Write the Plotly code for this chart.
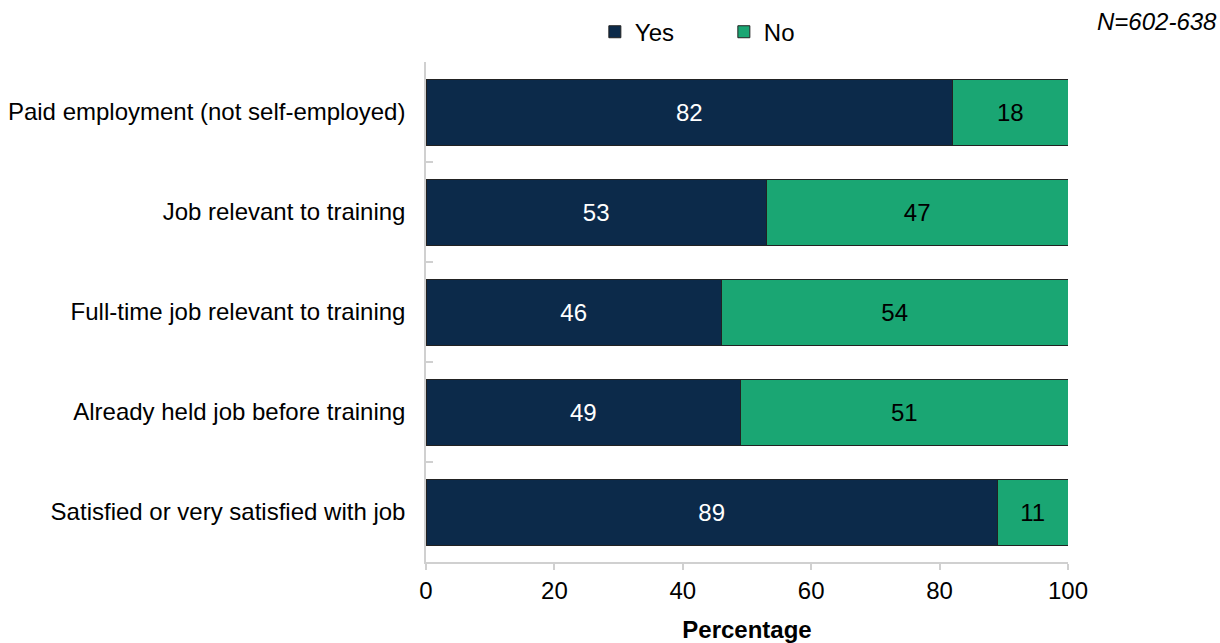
import plotly.graph_objects as go

categories = [
    "Paid employment (not self-employed)",
    "Job relevant to training",
    "Full-time job relevant to training",
    "Already held job before training",
    "Satisfied or very satisfied with job",
]
yes_values = [82, 53, 46, 49, 89]
no_values = [18, 47, 54, 51, 11]
x_ticks = [0, 20, 40, 60, 80, 100]

FONT = "Liberation Sans, Arial, sans-serif"
FS = 24
NAVY = "#0c2a4a"
GREEN = "#1aa673"
OUTLINE = "#222222"
AXIS_GREY = "#d0d0d0"

fig = go.Figure()
fig.add_trace(go.Bar(
    name="Yes", y=categories, x=yes_values, orientation="h",
    marker=dict(color=NAVY, line=dict(color=OUTLINE, width=1)),
    text=[str(v) for v in yes_values], textposition="inside",
    insidetextanchor="middle",
    textfont=dict(color="white", size=FS, family=FONT),
))
fig.add_trace(go.Bar(
    name="No", y=categories, x=no_values, orientation="h",
    marker=dict(color=GREEN, line=dict(color=OUTLINE, width=1)),
    text=[str(v) for v in no_values], textposition="inside",
    insidetextanchor="middle",
    textfont=dict(color="black", size=FS, family=FONT),
))

fig.update_layout(
    barmode="stack",
    bargap=0.34,
    width=1220, height=643,
    margin=dict(l=426, r=152, t=62, b=81),
    paper_bgcolor="white", plot_bgcolor="white",
    font=dict(family=FONT, size=FS, color="black"),
    uniformtext=dict(minsize=FS, mode="show"),
    legend=dict(
        orientation="h", x=0.263, y=0.985, xanchor="left", yanchor="top",
        yref="container", font=dict(size=FS), traceorder="normal",
        entrywidth=84, entrywidthmode="pixels", itemwidth=30,
    ),
    xaxis=dict(
        range=[0, 100], tickvals=x_ticks, ticktext=[str(t) for t in x_ticks],
        showgrid=False, zeroline=False, automargin=False,
        showline=True, linecolor=AXIS_GREY, linewidth=1.5,
        ticks="outside", ticklen=6, tickcolor=AXIS_GREY, tickwidth=1.5,
        tickfont=dict(size=FS),
        title=dict(text="<b>Percentage</b>", font=dict(size=FS), standoff=21),
    ),
    yaxis=dict(
        categoryorder="array", categoryarray=categories[::-1],
        showgrid=False, zeroline=False, automargin=False,
        showline=True, linecolor=AXIS_GREY, linewidth=1.5,
        ticks="inside", ticklen=7, tickcolor=AXIS_GREY, tickwidth=1.5,
        tickson="boundaries", ticklabelstandoff=14,
        tickfont=dict(size=FS),
    ),
)

fig.add_annotation(
    text="<i>N=602-638</i>", xref="paper", yref="paper",
    x=1.235, y=1.08, xanchor="right", yanchor="middle",
    showarrow=False, font=dict(size=FS, family=FONT, color="black"),
)

fig.write_html("out.html")
